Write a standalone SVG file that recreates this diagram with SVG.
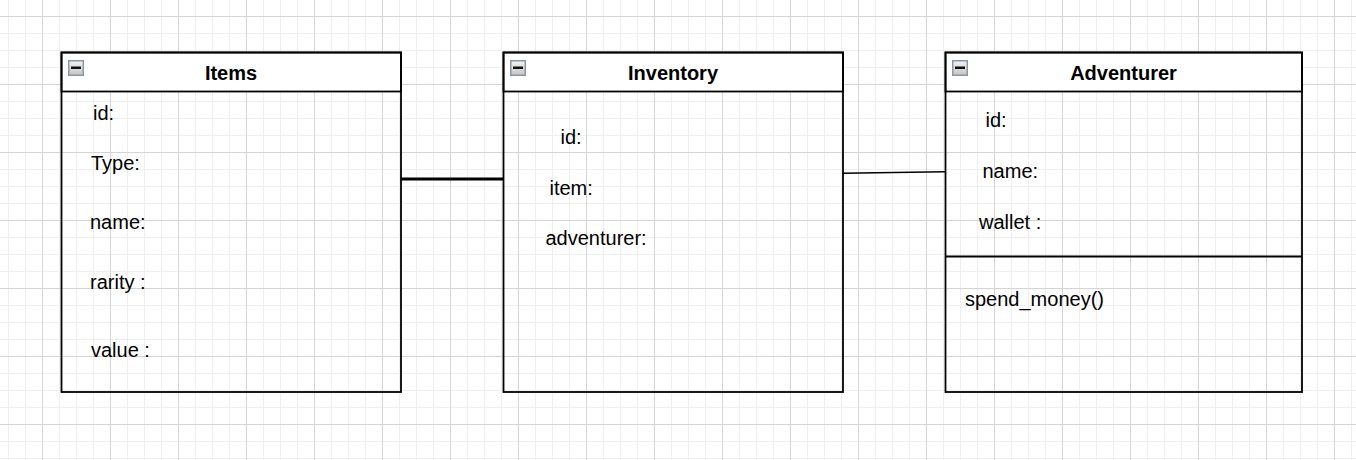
<svg xmlns="http://www.w3.org/2000/svg" width="1356" height="460" viewBox="0 0 1356 460">
  <defs>
    <pattern id="grid" patternUnits="userSpaceOnUse" x="42" y="16" width="68" height="68">
      <path d="M17.5 0V68M34.5 0V68M51.5 0V68M0 17.5H68M0 34.5H68M0 51.5H68" stroke="#efefef" stroke-width="1" fill="none"/>
      <path d="M0.5 0V68M0 0.5H68" stroke="#d4d4d4" stroke-width="1" fill="none"/>
    </pattern>
    <linearGradient id="iconFill" x1="0" y1="0" x2="0" y2="1">
      <stop offset="0" stop-color="#f4f4f4"/>
      <stop offset="1" stop-color="#c4c4c4"/>
    </linearGradient>
    <g id="minus">
      <rect x="0.75" y="0.75" width="14.5" height="14.5" fill="url(#iconFill)" stroke="#8e96a4" stroke-width="1.5"/>
      <rect x="3" y="6.5" width="10" height="2.5" fill="#111"/>
    </g>
  </defs>
  <style>
    .box { fill: none; stroke: #000; stroke-width: 1.8; }
    .head { fill: #fff; stroke: #000; stroke-width: 1.8; }
    .title { font-family: "Liberation Sans", Arial, sans-serif; font-size: 20px; font-weight: bold; fill: #000; text-anchor: middle; }
    .field { font-family: "Liberation Sans", Arial, sans-serif; font-size: 20px; fill: #000; }
    .conn { fill: none; stroke: #000; }
  </style>
  <rect x="0" y="0" width="1356" height="460" fill="#ffffff"/>
  <rect x="0" y="0" width="1356" height="460" fill="url(#grid)"/>

  <g id="connectors">
    <line class="conn" x1="401" y1="179" x2="503" y2="179" stroke-width="3"/>
    <line class="conn" x1="843" y1="173.3" x2="945" y2="171.7" stroke-width="1.6"/>
  </g>

  <g id="node-items">
    <rect class="head" x="61.5" y="52.5" width="339.5" height="39"/>
    <rect class="box" x="61.5" y="52.5" width="339.5" height="339.5"/>
    <use href="#minus" x="68" y="60"/>
    <text class="title" x="231" y="80">Items</text>
    <text class="field" x="93" y="120">id:</text>
    <text class="field" x="91" y="170">Type:</text>
    <text class="field" x="90" y="228.5">name:</text>
    <text class="field" x="90" y="289">rarity :</text>
    <text class="field" x="91" y="357">value :</text>
  </g>

  <g id="node-inventory">
    <rect class="head" x="503.5" y="52.5" width="339.5" height="39"/>
    <rect class="box" x="503.5" y="52.5" width="339.5" height="339.5"/>
    <use href="#minus" x="510" y="60"/>
    <text class="title" x="673" y="80">Inventory</text>
    <text class="field" x="560.5" y="144">id:</text>
    <text class="field" x="549.5" y="195">item:</text>
    <text class="field" x="545.5" y="245">adventurer:</text>
  </g>

  <g id="node-adventurer">
    <rect class="head" x="945.5" y="52.5" width="356.5" height="39"/>
    <rect class="box" x="945.5" y="52.5" width="356.5" height="339.5"/>
    <line class="box" x1="945.5" y1="256.5" x2="1302" y2="256.5"/>
    <use href="#minus" x="952" y="60"/>
    <text class="title" x="1123.5" y="80">Adventurer</text>
    <text class="field" x="985.5" y="127">id:</text>
    <text class="field" x="982.5" y="178">name:</text>
    <text class="field" x="979" y="228.5">wallet :</text>
    <text class="field" x="965" y="306">spend_money()</text>
  </g>
</svg>
